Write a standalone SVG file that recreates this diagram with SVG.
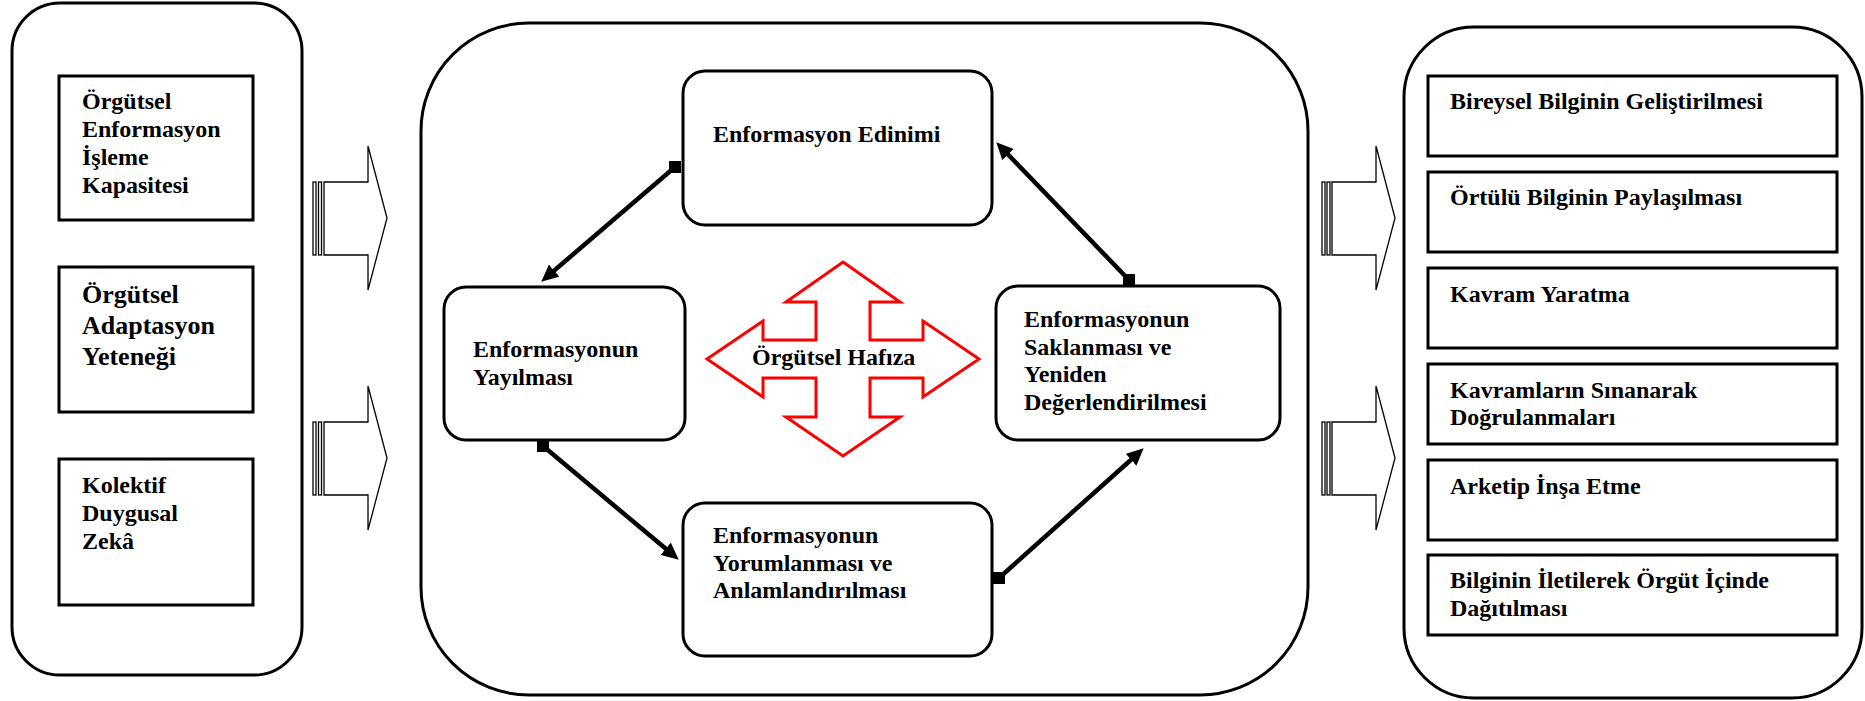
<svg xmlns="http://www.w3.org/2000/svg" width="1865" height="701" viewBox="0 0 1865 701">
<style>
  .box{fill:#fff;stroke:#000;stroke-width:3}
  .t{font-family:"Liberation Serif","Times New Roman",serif;font-weight:bold;font-size:24px;fill:#000}
  .t26{font-size:26px}
  .blk{fill:#fff;stroke:#000;stroke-width:1.3}
  .con{stroke:#000;stroke-width:4.5;fill:none;marker-end:url(#ah)}
  .sq{fill:#000}
  .quad{fill:#fff;stroke:#ff0000;stroke-width:3;stroke-linejoin:miter}
</style>
<defs>
  <marker id="ah" markerUnits="userSpaceOnUse" markerWidth="18" markerHeight="16" refX="6" refY="8" orient="auto" viewBox="0 0 18 16">
    <path d="M0,0 L17,8 L0,16 Z" fill="#000"/>
  </marker>
</defs>
<rect width="1865" height="701" fill="#fff"/>

<g id="left-panel">
  <rect class="box" x="12" y="3" width="290" height="672" rx="48" ry="48"/>
</g>
<g id="node-isleme">
  <rect class="box" x="59" y="76" width="194" height="144"/>
  <text class="t" x="82" y="109">Örgütsel</text>
  <text class="t" x="82" y="137">Enformasyon</text>
  <text class="t" x="82" y="165">İşleme</text>
  <text class="t" x="82" y="193">Kapasitesi</text>
</g>
<g id="node-adaptasyon">
  <rect class="box" x="59" y="267" width="194" height="145"/>
  <text class="t t26" x="82" y="303">Örgütsel</text>
  <text class="t t26" x="82" y="334">Adaptasyon</text>
  <text class="t t26" x="82" y="365">Yeteneği</text>
</g>
<g id="node-zeka">
  <rect class="box" x="59" y="459" width="194" height="146"/>
  <text class="t" x="82" y="493">Kolektif</text>
  <text class="t" x="82" y="521">Duygusal</text>
  <text class="t" x="82" y="549">Zekâ</text>
</g>

<g id="block-arrows">
  <g id="arrow-l1">
    <rect class="blk" x="313" y="182" width="3" height="73" fill="#000"/>
    <rect class="blk" x="318.5" y="182" width="3" height="73"/>
    <path class="blk" d="M324,182 L368,182 L368,146 L387,218 L368,290 L368,255 L324,255 Z"/>
  </g>
  <g id="arrow-l2">
    <rect class="blk" x="313" y="422" width="3" height="73" fill="#000"/>
    <rect class="blk" x="318.5" y="422" width="3" height="73"/>
    <path class="blk" d="M324,422 L368,422 L368,386 L387,458 L368,530 L368,495 L324,495 Z"/>
  </g>
  <g id="arrow-r1">
    <rect class="blk" x="1322" y="182" width="3" height="73" fill="#000"/>
    <rect class="blk" x="1327" y="182" width="3" height="73"/>
    <path class="blk" d="M1332,182 L1376,182 L1376,146 L1395,218 L1376,290 L1376,255 L1332,255 Z"/>
  </g>
  <g id="arrow-r2">
    <rect class="blk" x="1322" y="422" width="3" height="73" fill="#000"/>
    <rect class="blk" x="1327" y="422" width="3" height="73"/>
    <path class="blk" d="M1332,422 L1376,422 L1376,386 L1395,458 L1376,530 L1376,495 L1332,495 Z"/>
  </g>
</g>

<g id="center-panel">
  <rect class="box" x="421" y="23" width="887" height="672" rx="108" ry="108"/>
</g>

<g id="node-edinim">
  <rect class="box" x="683" y="71" width="309" height="154" rx="22" ry="22"/>
  <text class="t" x="713" y="142">Enformasyon Edinimi</text>
</g>
<g id="node-yayilma">
  <rect class="box" x="444" y="287" width="241" height="153" rx="22" ry="22"/>
  <text class="t" x="473" y="357">Enformasyonun</text>
  <text class="t" x="473" y="385">Yayılması</text>
</g>
<g id="node-saklanma">
  <rect class="box" x="996" y="286" width="284" height="154" rx="22" ry="22"/>
  <text class="t" x="1024" y="327">Enformasyonun</text>
  <text class="t" x="1024" y="355">Saklanması ve</text>
  <text class="t" x="1024" y="382">Yeniden</text>
  <text class="t" x="1024" y="410">Değerlendirilmesi</text>
</g>
<g id="node-yorumlama">
  <rect class="box" x="683" y="503" width="309" height="153" rx="22" ry="22"/>
  <text class="t" x="713" y="543">Enformasyonun</text>
  <text class="t" x="713" y="571">Yorumlanması ve</text>
  <text class="t" x="713" y="598">Anlamlandırılması</text>
</g>
<g id="node-hafiza">
  <path class="quad" d="M843,262 L900,302 L870,302 L870,340 L923,340 L923,321 L979,359 L923,397 L923,378 L870,378 L870,417 L900,417 L843,456 L786,417 L816,417 L816,378 L763,378 L763,397 L707,359 L763,321 L763,340 L816,340 L816,302 L786,302 Z"/>
  <text class="t" x="752" y="365">Örgütsel Hafıza</text>
</g>

<g id="connectors">
  <line class="con" x1="675" y1="167" x2="549.6" y2="274.5"/>
  <rect class="sq" x="669" y="161" width="12" height="12"/>
  <line class="con" x1="543" y1="446" x2="670.3" y2="552.6"/>
  <rect class="sq" x="537" y="440" width="12" height="12"/>
  <line class="con" x1="999" y1="578" x2="1135.5" y2="455.7"/>
  <rect class="sq" x="993" y="572" width="12" height="12"/>
  <line class="con" x1="1129" y1="280" x2="1003.9" y2="150.2"/>
  <rect class="sq" x="1123" y="274" width="12" height="12"/>
</g>

<g id="right-panel">
  <rect class="box" x="1404" y="27" width="458" height="671" rx="70" ry="70"/>
</g>
<g id="node-bireysel">
  <rect class="box" x="1428" y="76" width="409" height="80"/>
  <text class="t" x="1450" y="109">Bireysel Bilginin Geliştirilmesi</text>
</g>
<g id="node-ortulu">
  <rect class="box" x="1428" y="172" width="409" height="80"/>
  <text class="t" x="1450" y="205">Örtülü Bilginin Paylaşılması</text>
</g>
<g id="node-kavram">
  <rect class="box" x="1428" y="268" width="409" height="80"/>
  <text class="t" x="1450" y="302">Kavram Yaratma</text>
</g>
<g id="node-sinama">
  <rect class="box" x="1428" y="364" width="409" height="80"/>
  <text class="t" x="1450" y="398">Kavramların Sınanarak</text>
  <text class="t" x="1450" y="425">Doğrulanmaları</text>
</g>
<g id="node-arketip">
  <rect class="box" x="1428" y="460" width="409" height="80"/>
  <text class="t" x="1450" y="494">Arketip İnşa Etme</text>
</g>
<g id="node-dagitim">
  <rect class="box" x="1428" y="555" width="409" height="80"/>
  <text class="t" x="1450" y="588">Bilginin İletilerek Örgüt İçinde</text>
  <text class="t" x="1450" y="616">Dağıtılması</text>
</g>
</svg>
